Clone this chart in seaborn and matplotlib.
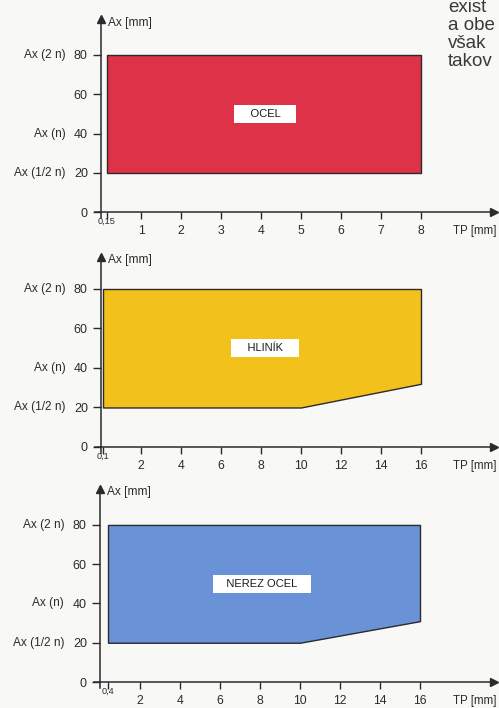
import matplotlib
matplotlib.use("Agg")
import matplotlib.pyplot as plt
import matplotlib.transforms as mtransforms
import seaborn as sns

# --- data ---
panel_names = ["OCEL", "HLINÍK", "NEREZ OCEL"]
panel_colors = ["#dd3248", "#f2c11c", "#6a92d6"]

tp_ocel = [0.15, 8]
ax_low_ocel = [20, 20]
ax_high_ocel = [80, 80]

tp_hlinik = [0.1, 10, 16]
ax_low_hlinik = [20, 20, 32]
ax_high_hlinik = [80, 80, 80]

tp_nerez = [0.4, 10, 16]
ax_low_nerez = [20, 20, 31]
ax_high_nerez = [80, 80, 80]

xticks_ocel = [0.15, 1, 2, 3, 4, 5, 6, 7, 8]
xticks_hlinik = [0.1, 2, 4, 6, 8, 10, 12, 14, 16]
xticks_nerez = [0.4, 2, 4, 6, 8, 10, 12, 14, 16]

yticks = [0, 20, 40, 60, 80]
ytick_names = {80: "Ax (2 n)", 40: "Ax (n)", 20: "Ax (1/2 n)"}

label_pos = [(4.1, 50), (8.2, 50), (8.1, 50)]
label_spaces = [4, 4, 3]
side_text = ["exist", "a obe", "však", "takov"]

sns.set_theme(style="white")
plt.rcParams["font.family"] = ["Liberation Sans", "DejaVu Sans"]

INK = "#2b2b2b"
fig = plt.figure(figsize=(4.99, 7.08), dpi=100, facecolor="#f8f8f6")

panels = [
    (tp_ocel, ax_low_ocel, ax_high_ocel, xticks_ocel, "0,15",
     [0.1904, 0.6922, 0.7996, 0.2809], (-0.15, 9.825), (-3, 98.3)),
    (tp_hlinik, ax_low_hlinik, ax_high_hlinik, xticks_hlinik, "0,1",
     [0.1904, 0.3603, 0.7996, 0.2767], (-0.3, 19.65), (-3, 96.2)),
    (tp_nerez, ax_low_nerez, ax_high_nerez, xticks_nerez, "0,4",
     [0.1884, 0.0284, 0.8016, 0.2809], (-0.3, 19.7), (-3, 98.3)),
]

for i, (tp, low, high, xt, first_lbl, rect, xl, yl) in enumerate(panels):
    ax = fig.add_axes(rect)
    ax.set_facecolor("none")
    ax.fill_between(tp, low, high, facecolor=panel_colors[i],
                    edgecolor=INK, linewidth=1.0, zorder=2)

    ax.set_xlim(*xl)
    ax.set_ylim(*yl)
    for s in ["top", "right"]:
        ax.spines[s].set_visible(False)
    for s in ["left", "bottom"]:
        ax.spines[s].set_position(("data", 0))
        ax.spines[s].set_color(INK)
        ax.spines[s].set_linewidth(1.1)

    # axis arrows
    ax.plot(1, 0, ">", color=INK, markersize=6, transform=ax.get_yaxis_transform(), clip_on=False)
    ax.plot(0, 1, "^", color=INK, markersize=6, transform=ax.get_xaxis_transform(), clip_on=False)

    ax.set_yticks(yticks)
    ax.set_yticklabels([str(v) for v in yticks])
    labels = [first_lbl] + [str(v) for v in xt[1:]]
    ax.set_xticks(xt)
    ax.set_xticklabels(labels)
    ax.tick_params(axis="y", direction="out", length=5.5, width=1.0, color=INK,
                   labelsize=9, pad=4, labelcolor=INK, left=True)
    ax.tick_params(axis="x", direction="out", length=5, width=1.0, color=INK,
                   labelsize=8.8, pad=4.5, labelcolor=INK, bottom=True)
    small = ax.get_xticklabels()[0]
    small.set_fontsize(6.6)
    small.set_transform(small.get_transform() +
                        mtransforms.ScaledTranslation(0, 6 / 72, fig.dpi_scale_trans))

    # names next to the y ticks
    ytrans = mtransforms.blended_transform_factory(ax.transAxes, ax.transData)
    for v, name in ytick_names.items():
        ax.text(-0.0745, v, name, transform=ytrans, ha="right", va="center",
                fontsize=8.6, color=INK)

    ax.annotate("Ax [mm]", xy=(0, 1), xycoords=ax.get_xaxis_transform(),
                xytext=(5, -2.5), textcoords="offset points", ha="left", va="center",
                fontsize=8.6, color=INK)
    ax.annotate("TP [mm]", xy=(1, 0), xycoords=ax.get_yaxis_transform(),
                xytext=(-29.5, -14), textcoords="offset points", ha="left", va="center",
                fontsize=8.3, color=INK)

    lx, ly = label_pos[i]
    pad = " " * label_spaces[i]
    ax.text(lx, ly, pad + panel_names[i] + pad, ha="center", va="center",
            fontsize=8, color="#1a1a1a", zorder=3,
            bbox=dict(boxstyle="square,pad=0.35", facecolor="white", edgecolor="none"))

# page text at the top right
side_y = [8, 26, 44, 62]
for line, y in zip(side_text, side_y):
    fig.text(448 / 499, 1 - y / 708, line, ha="left", va="center",
             fontsize=13.5, color="#3a3a3a")

fig.savefig("out.png", dpi=100, facecolor=fig.get_facecolor())
